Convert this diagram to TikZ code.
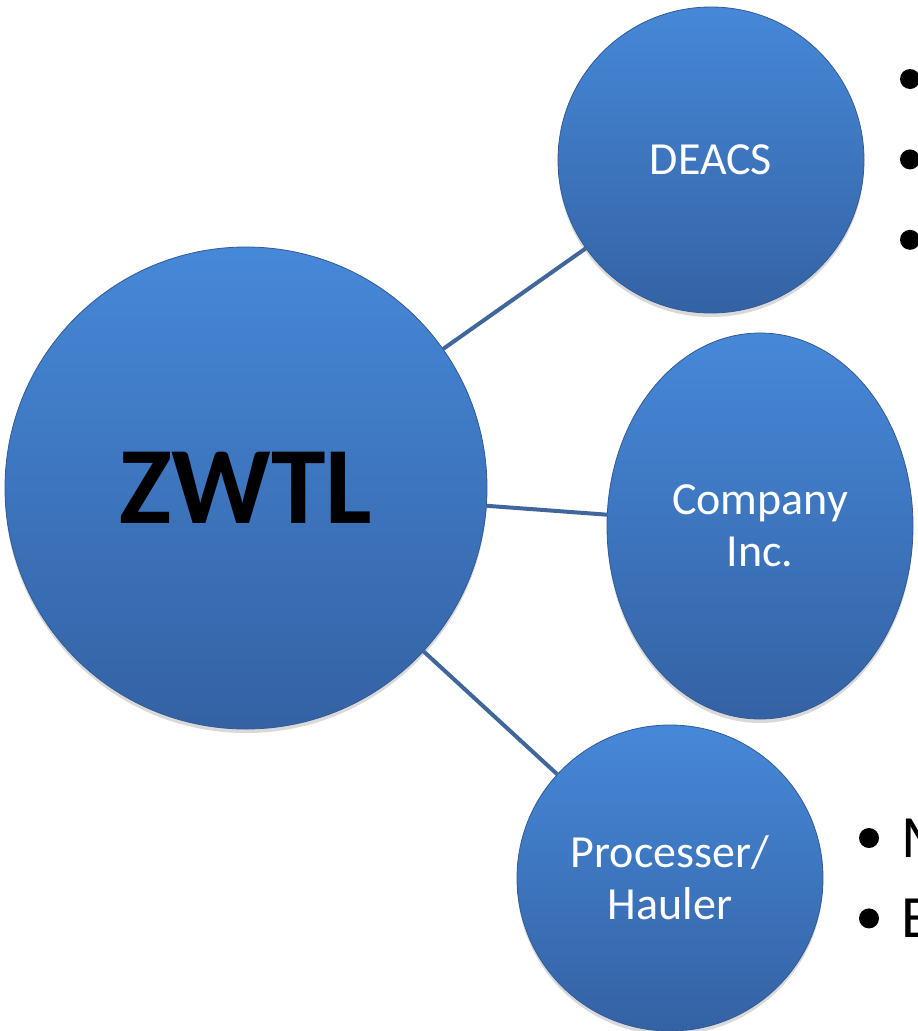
\documentclass[tikz,border=0pt]{standalone}
\usepackage{fontspec}
\setmainfont{Carlito}
\usetikzlibrary{positioning,shapes.geometric,shadows}
\definecolor{ballTop}{RGB}{70,136,216}
\definecolor{ballBottom}{RGB}{52,98,164}
\definecolor{ballEdge}{RGB}{50,90,148}
\definecolor{linkBlue}{RGB}{64,102,156}

\begin{document}
\begin{tikzpicture}[x=1pt, y=-1pt,
ball/.style={circle, top color=ballTop, bottom color=ballBottom, draw=ballEdge, line width=0.8pt, inner sep=0pt, text=white, align=center, font=\fontsize{46}{52}\selectfont, drop shadow={shadow xshift=0pt, shadow yshift=-4pt, opacity=0.3}},
bigball/.style={ball, minimum size=482pt, text=black, font=\fontsize{110}{120}\selectfont\bfseries},
smallball/.style={ball, minimum size=306pt},
ovalball/.style={ball, ellipse, minimum width=306pt, minimum height=386pt},
link/.style={draw=linkBlue, line width=4pt},
dotnode/.style={circle, fill=black, inner sep=0pt, minimum size=20pt},
bullettext/.style={font=\fontsize{60}{72}\selectfont, inner sep=0pt},
]
\useasboundingbox (0,0) rectangle (918,1031);
\clip (0,0) rectangle (918,1031);

%Nodes
\node[bigball]    (zwtl)    at (246,488) {ZWTL};
\node[smallball]  (deacs)   at (711,160) {DEACS};
\node[ovalball]   (company) at (760,526) {Company\\Inc.};
\node[smallball]  (hauler)  at (670,878) {Processer/\\Hauler};

%Bullets
\node[dotnode]    (deacsdot1)  at (910,79) {};
\node[dotnode]    (deacsdot2)  [below=60pt of deacsdot1] {};
\node[dotnode]    (deacsdot3)  [below=60pt of deacsdot2] {};
\node[dotnode]    (haulerdot1) at (869,838) {};
\node[dotnode]    (haulerdot2) [below=60pt of haulerdot1] {};
\node[bullettext] (haulerM)    [right=22pt of haulerdot1] {M};
\node[bullettext] (haulerE)    [right=22pt of haulerdot2] {E};

%Lines
\draw[link] (zwtl) -- (deacs);
\draw[link] (zwtl) -- (company);
\draw[link] (zwtl) -- (hauler);
\end{tikzpicture}
\end{document}
